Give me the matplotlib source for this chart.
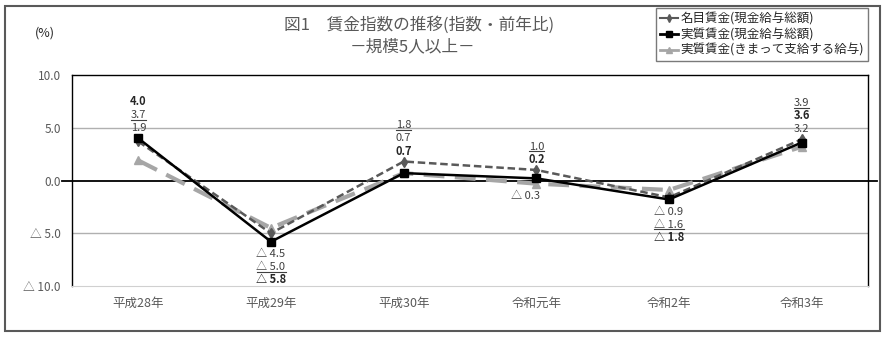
import matplotlib
matplotlib.use("Agg")
import matplotlib.pyplot as plt
from matplotlib.lines import Line2D
from matplotlib.patches import Rectangle

plt.rcParams['font.family'] = ['Noto Sans CJK JP', 'DejaVu Sans']

# data (前年比, %)
years = ["平成28年", "平成29年", "平成30年", "令和元年", "令和2年", "令和3年"]
nominal = [3.7, -5.0, 1.8, 1.0, -1.6, 3.9]         # 名目賃金(現金給与総額)
real_total = [4.0, -5.8, 0.7, 0.2, -1.8, 3.6]      # 実質賃金(現金給与総額)
real_contract = [1.9, -4.5, 0.7, -0.3, -0.9, 3.2]  # 実質賃金(きまって支給する給与)
yticks = [10.0, 5.0, 0.0, -5.0, -10.0]

series_names = ["名目賃金(現金給与総額)", "実質賃金(現金給与総額)",
                "実質賃金(きまって支給する給与)"]

# label stacks per year, listed top to bottom: n=名目, r=実質, c=きまって
stack_above = [["r", "n", "c"], [], ["n", "c", "r"], ["n", "r"], [], ["n", "r", "c"]]
stack_below = [[], ["c", "n", "r"], [], ["c"], ["c", "n", "r"], []]

DARK = "#595959"
LIGHT = "#a6a6a6"


def fmt(v):
    return "△ %.1f" % abs(v) if v < 0 else "%.1f" % v


fig = plt.figure(figsize=(8.9, 3.37), dpi=100)
ax = fig.add_axes([72 / 890, 51 / 337, 796 / 890, 211 / 337])

x = list(range(len(years)))
ax.plot(x, real_contract, color=LIGHT, lw=3, dashes=(5, 2.5),
        marker="^", ms=6, mfc=LIGHT, mec=LIGHT, zorder=3)
ax.plot(x, nominal, color=DARK, lw=1.8, dashes=(3, 1.5),
        marker="d", ms=5, mfc=DARK, mec=DARK, zorder=4)
ax.plot(x, real_total, color="black", lw=1.8,
        marker="s", ms=6, mfc="black", mec="black", zorder=5)

ax.set_xlim(-0.5, len(years) - 0.5)
ax.set_ylim(-10, 10)
ax.set_yticks(yticks)
ax.set_yticklabels([fmt(v) for v in yticks], color=DARK, fontsize=8.5)
ax.set_xticks(x)
ax.set_xticklabels(years, color=DARK, fontsize=9)
ax.tick_params(length=0, pad=8)

for y in (5, -5):
    ax.axhline(y, color="#b0b0b0", lw=1, zorder=1)
ax.axhline(0, color="black", lw=1.3, xmin=-10 / 796, xmax=1 + 9 / 796,
           clip_on=False, zorder=2)

for side in ("top", "left", "right"):
    ax.spines[side].set_color("black")
    ax.spines[side].set_linewidth(1)
ax.spines["bottom"].set_color("#d0d0d0")

values = {"n": nominal, "r": real_total, "c": real_contract}
styles = {"n": dict(color="#404040", weight="normal"),
          "r": dict(color="#262626", weight="bold"),
          "c": dict(color="#404040", weight="normal")}
underline = []  # (text, x, anchor value, baseline offset in points)
step = 9.5      # points between stacked labels
for i in x:
    vals = [nominal[i], real_total[i], real_contract[i]]
    top = max(vals)
    bottom = min(vals)
    above = stack_above[i]
    for k, key in enumerate(above):
        dy = 5 + step * (len(above) - 1 - k)
        t = ax.annotate(fmt(values[key][i]), (i, top), xytext=(0, dy),
                        textcoords="offset points", ha="center", va="baseline",
                        fontsize=8, **styles[key])
        if key == "n":
            underline.append((t, i, top, dy))
    for k, key in enumerate(stack_below[i]):
        dy = -11 - step * k
        dx = -8 if i == 3 else 0
        t = ax.annotate(fmt(values[key][i]), (i, bottom), xytext=(dx, dy),
                        textcoords="offset points", ha="center", va="baseline",
                        fontsize=8, **styles[key])
        if key == "n":
            underline.append((t, i, bottom, dy))

# title and unit
fig.text(419 / 890, 1 - 25 / 337, "図1　賃金指数の推移(指数・前年比)",
         ha="center", va="center", fontsize=12, color=DARK)
fig.text(413 / 890, 1 - 47 / 337, "－規模5人以上－",
         ha="center", va="center", fontsize=12, color=DARK)
fig.text(45 / 890, 1 - 33 / 337, "(%)", ha="center", va="center",
         fontsize=9, color="#262626")

handles = [
    Line2D([], [], color=DARK, lw=1.5, marker="d", ms=4),
    Line2D([], [], color="black", lw=2, marker="s", ms=5),
    Line2D([], [], color=LIGHT, lw=2, marker="^", ms=5),
]
leg = fig.legend(handles, series_names, loc="upper right",
                 bbox_to_anchor=(868 / 890, 1 - 8 / 337), fontsize=9,
                 frameon=True, fancybox=False, edgecolor=DARK,
                 handlelength=1.4, handletextpad=0.2, borderpad=0.35,
                 labelspacing=0.2, borderaxespad=0)
leg.get_frame().set_linewidth(1)
for txt in leg.get_texts():
    txt.set_color("#262626")

fig.patches.append(Rectangle((5 / 890, 6 / 337), 875 / 890, 325 / 337,
                             transform=fig.transFigure, fill=False,
                             edgecolor="#595959", lw=1.5))

# underline the 名目賃金 values just below their baseline
fig.canvas.draw()
inv = fig.transFigure.inverted()
for t, i, v, dy in underline:
    bb = t.get_window_extent()
    base = ax.transData.transform((i, v))[1] + dy * fig.dpi / 72 - 1.5
    (x0, y0), (x1, _) = inv.transform([(bb.x0, base), (bb.x1, base)])
    fig.lines.append(Line2D([x0, x1], [y0, y0], transform=fig.transFigure,
                            color="#404040", lw=0.8))

fig.savefig("out.png", dpi=100)
